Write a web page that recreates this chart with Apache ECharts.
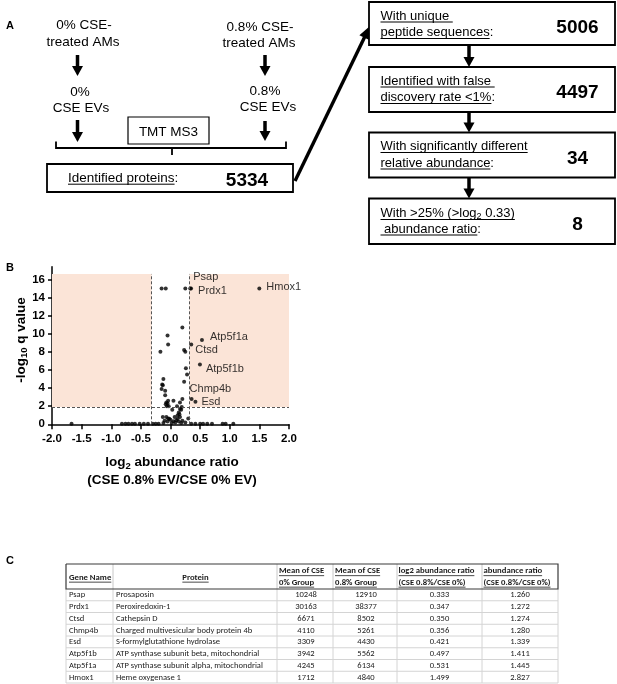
<!DOCTYPE html>
<html><head><meta charset="utf-8">
<script src="https://cdn.jsdelivr.net/npm/echarts@6.0.0/dist/echarts.min.js"></script>
<style>html,body{margin:0;padding:0;background:#fff}#c{width:617px;height:684px}</style>
</head><body><div id="c"></div>
<script>
// ---------------- DATA ----------------
const geneNames = ['Psap','Prdx1','Ctsd','Chmp4b','Esd','Atp5f1b','Atp5f1a','Hmox1'];
const proteinNames = ['Prosaposin','Peroxiredoxin-1','Cathepsin D','Charged multivesicular body protein 4b',
  'S-formylglutathione hydrolase','ATP synthase subunit beta, mitochondrial','ATP synthase subunit alpha, mitochondrial','Heme oxygenase 1'];
const meanCSE0 = [10248,30163,6671,4110,3309,3942,4245,1712];
const meanCSE08 = [12910,38377,8502,5261,4430,5562,6134,4840];
const log2Ratio = [0.333,0.347,0.350,0.356,0.421,0.497,0.531,1.499];
const abundanceRatio = [1.260,1.272,1.274,1.280,1.339,1.411,1.445,2.827];
const labeledNegLogQ = [15.0,15.0,8.8,2.8,2.5,6.6,9.3,15.0];

const otherLog2 = [-0.15,-0.08,0.25, 0.20,-0.05,-0.04,-0.17,0.23,0.25,
  0.26,0.28,0.23,-0.12,-0.14,-0.13,-0.15,-0.09,-0.09,0.20,
  0.05,-0.04,-0.07,-0.08,-0.05,0.16,-0.06,-0.03,0.11,0.19,
  0.03,0.18,0.14,0.16,
  -0.13,-0.07,-0.04,0.07,0.16,0.30,0.12,0.15,
  -0.10,-0.05,0.00,0.05,0.10,0.14,0.20,0.25,-0.12,0.02,0.08,0.18,-0.02,0.12,
  -1.67,-0.82,-0.76,-0.71,-0.65,-0.60,-0.52,-0.45,-0.38,-0.30,-0.25,-0.20,0.35,0.42,0.50,0.55,0.62,0.70,0.88,0.93,1.06];
const otherNegLogQ = [15.0,15.0,15.0, 10.7,9.8,8.8,8.0,8.2,8.0,
  6.2,5.5,4.7,5.0,4.4,4.3,3.9,3.7,3.2,2.8,
  2.6,2.6,2.4,2.2,2.3,2.4,2.0,2.0,2.0,1.9,
  1.6,1.6,1.3,1.7,
  0.8,0.8,0.65,0.8,0.8,0.65,1.0,1.1,
  0.4,0.3,0.5,0.35,0.45,0.3,0.4,0.2,0.15,0.15,0.2,0.15,0.6,0.6,
  0.05,0.05,0.05,0.05,0.05,0.05,0.05,0.05,0.05,0.05,0.05,0.05,0.05,0.05,0.05,0.05,0.05,0.05,0.05,0.05,0.05];

const yTickValues = [0,2,4,6,8,10,12,14,16];
const ratioCut = 0.32;      // log2 threshold lines
const qCut = 1.9;           // -log10 q threshold line
const shadeTop = 16.6;

const flowCounts = [5334, 5006, 4497, 34, 8];

// ---------------- HELPERS ----------------
const FAM = '"Liberation Sans", Arial, Helvetica, sans-serif';
const TFAM = 'Carlito, "Liberation Sans Narrow", "Liberation Sans", Arial, sans-serif';
const mctx = document.createElement('canvas').getContext('2d');
function tw(t, font){ mctx.font = font; return mctx.measureText(t).width; }
const g = [];
function txt(x, y, text, font, align, extra){
  align = align || 'left';
  g.push({type:'text', x:x, y:y, silent:true, z:10,
    style:Object.assign({text:text, font:font, fill:'#000', align:align, verticalAlign:'middle',
      textAlign:align, textVerticalAlign:'middle'}, extra||{})});
}
function line(points, w, color, dash){
  g.push({type:'polyline', silent:true, z:10, shape:{points:points},
    style:{stroke:color||'#000', lineWidth:w||1, fill:null, lineDash:dash||null}});
}
function rect(x, y, w, h, lw, stroke){
  g.push({type:'rect', silent:true, z:10, shape:{x:x, y:y, width:w, height:h},
    style:{stroke:stroke||'#000', lineWidth:lw||1, fill:'#fff'}});
}
function arrow(x1, y1, x2, y2, sw, hl, hw){
  const dx = x2-x1, dy = y2-y1, L = Math.sqrt(dx*dx+dy*dy);
  const ux = dx/L, uy = dy/L, px = -uy, py = ux;
  const bx = x2-ux*hl, by = y2-uy*hl;
  line([[x1,y1],[bx+ux*1,by+uy*1]], sw);
  g.push({type:'polygon', silent:true, z:10, shape:{points:[[x2,y2],[bx+px*hw/2,by+py*hw/2],[bx-px*hw/2,by-py*hw/2]]},
    style:{fill:'#000', stroke:null}});
}
function uline(x, y, w, lw, color){ line([[x,y],[x+w,y]], lw||1, color||'#000'); }
// text drawn left aligned, with segments underlined
function ulText(x, y, segs, font, ulOff, lw){
  let cx = x;
  const full = segs.map(s=>s.t).join('');
  txt(x, y, full, font, 'left');
  segs.forEach(s=>{ const w = tw(s.t, font); if (s.u) uline(cx, y+ulOff, w, lw||1); cx += w; });
}

// ---------------- PANEL A ----------------
const F135 = '13.5px ' + FAM;
const F13 = '13px ' + FAM;
const FB19 = 'bold 19px ' + FAM;
txt(6, 26, 'A', 'bold 11px ' + FAM);
txt(6, 268, 'B', 'bold 11px ' + FAM);
txt(6, 561, 'C', 'bold 11px ' + FAM);

txt(84, 25, '0% CSE-', F135, 'center');
txt(83, 42, 'treated AMs', F135, 'center');
txt(80, 92, '0%', F135, 'center');
txt(81, 108, 'CSE EVs', F135, 'center');
txt(260, 27, '0.8% CSE-', F135, 'center');
txt(259, 43.5, 'treated AMs', F135, 'center');
txt(265, 91, '0.8%', F135, 'center');
txt(268, 107.5, 'CSE EVs', F135, 'center');
arrow(77.5, 55, 77.5, 76, 3.5, 10, 11);
arrow(77.5, 120, 77.5, 142, 3.5, 10, 11);
arrow(265, 55, 265, 76, 3.5, 10, 11);
arrow(265, 121, 265, 141, 3.5, 10, 11);

rect(128, 117, 81, 27, 1.2);
txt(168.5, 132, 'TMT MS3', F135, 'center');
// brace
line([[56,141.5],[56,148],[286,148],[286,141.5]], 1.8);
line([[172,148],[172,155]], 1.8);

rect(47, 164, 246, 28, 1.8);
ulText(68, 178, [{t:'Identified proteins', u:true},{t:':', u:false}], F135, 6.2, 1);
txt(247, 181, String(flowCounts[0]), FB19, 'center');

// big diagonal arrow
arrow(295, 181, 370, 26, 3.4, 13, 11);

// right boxes
const boxTop = [2, 67, 132.5, 198.5];
const boxH = [43, 45, 45, 45.5];
const lines1 = [
  [[{t:'With unique ', u:true}], [{t:'peptide sequences', u:true},{t:':', u:false}]],
  [[{t:'Identified with false ', u:true}], [{t:'discovery rate <1%', u:true},{t:':', u:false}]],
  [[{t:'With significantly different', u:true}], [{t:'relative abundance', u:true},{t:':', u:false}]],
  null
];
for (let i=0;i<4;i++){
  rect(369, boxTop[i], 246, boxH[i], 1.8);
  const y1 = boxTop[i] + 14, y2 = boxTop[i] + 30.5;
  if (lines1[i]){
    ulText(380.5, y1, lines1[i][0], F13, 6, 1);
    ulText(380.5, y2, lines1[i][1], F13, 6, 1);
  }
  txt(577.5, boxTop[i] + 26, String(flowCounts[i+1]), FB19, 'center');
  if (i<3) arrow(469, boxTop[i]+boxH[i], 469, boxTop[i+1], 3.5, 10, 11);
}
// box 4 rich line with subscript
{
  const y1 = boxTop[3] + 14.5, y2 = boxTop[3] + 30.5;
  g.push({type:'text', x:380.5, y:y1, silent:true, z:10, style:{
    text:'{a|With >25% (>log}{s|2}{a| 0.33)}', align:'left', verticalAlign:'middle', textAlign:'left', textVerticalAlign:'middle',
    rich:{a:{font:F13, fill:'#000', lineHeight:16}, s:{font:'9px '+FAM, fill:'#000', lineHeight:10, verticalAlign:'bottom'}}}});
  const w = tw('With >25% (>log', F13) + tw('2', '9px '+FAM) + tw(' 0.33)', F13);
  uline(380.5, y1+6.5, w, 1);
  ulText(380.5, y2, [{t:' abundance ratio', u:true},{t:':', u:false}], F13, 6, 1);
}

// ---------------- PANEL B axis titles ----------------
const FB135 = 'bold 13.5px ' + FAM;
g.push({type:'text', x:21, y:340, rotation:Math.PI/2, silent:true, z:10, style:{
  text:'{a|-log}{s|10}{a| q value}', align:'center', verticalAlign:'middle', textAlign:'center', textVerticalAlign:'middle',
  rich:{a:{font:FB135, fill:'#000', lineHeight:16}, s:{font:'bold 9.5px '+FAM, fill:'#000', lineHeight:8, verticalAlign:'bottom'}}}});
g.push({type:'text', x:172, y:471.5, silent:true, z:10, style:{
  text:'{a|log}{s|2}{a| abundance ratio}\n{a|(CSE 0.8% EV/CSE 0% EV)}', align:'center', verticalAlign:'middle', textAlign:'center', textVerticalAlign:'middle',
  rich:{a:{font:FB135, fill:'#000', lineHeight:18}, s:{font:'bold 9.5px '+FAM, fill:'#000', lineHeight:9, verticalAlign:'bottom'}}}});

// ---------------- PANEL C table ----------------
const colX = [66,113,277,333,397,482,558];
const headTop = 564, headBot = 589, rowH = 11.75;
let bodySize = 9 * 147 / tw('ATP synthase subunit alpha, mitochondrial', '9px ' + TFAM);
bodySize = Math.min(9.2, bodySize);
let headSize = 9 * 76 / tw('log2 abundance ratio', 'bold 9px ' + TFAM);
headSize = Math.min(9.2, headSize);
const TF = bodySize.toFixed(2) + 'px ' + TFAM;
const TFB = 'bold ' + headSize.toFixed(2) + 'px ' + TFAM;
const nRows = geneNames.length;
const tBot = headBot + rowH*nRows;
// light grid
for (let r=1;r<=nRows;r++) line([[colX[0],headBot+rowH*r],[colX[6],headBot+rowH*r]], 1, '#d4d4d4');
for (let c=0;c<colX.length;c++) line([[colX[c],headBot],[colX[c],tBot]], 1, '#d4d4d4');
for (let c=1;c<colX.length-1;c++) line([[colX[c],headTop],[colX[c],headBot]], 1, '#c8c8c8');
// header border
line([[colX[0],headTop],[colX[6],headTop],[colX[6],headBot],[colX[0],headBot],[colX[0],headTop]], 1.2, '#3a3a3a');
function hdr(x, y, t, align){
  txt(x, y, t, TFB, align||'left', {fill:'#1a1a1a'});
  const w = tw(t, TFB);
  const x0 = align==='center' ? x - w/2 : x;
  uline(x0, y+headSize*0.5+0.3, w, 0.8, '#1a1a1a');
}
hdr(69, 577.5, 'Gene Name');
hdr(195.5, 577.5, 'Protein', 'center');
hdr(279, 571, 'Mean of CSE'); hdr(279, 582.5, '0% Group');
hdr(335, 571, 'Mean of CSE'); hdr(335, 582.5, '0.8% Group');
hdr(398.5, 571, 'log2 abundance ratio'); hdr(398.5, 582.5, '(CSE 0.8%/CSE 0%)');
hdr(483.5, 571, 'abundance ratio'); hdr(483.5, 582.5, '(CSE 0.8%/CSE 0%)');
for (let i=0;i<nRows;i++){
  const y = headBot + rowH*(i+0.5) + 0.3;
  const o = {fill:'#222'};
  txt(69, y, geneNames[i], TF, 'left', o);
  txt(116, y, proteinNames[i], TF, 'left', o);
  txt((colX[2]+colX[3])/2+1, y, String(meanCSE0[i]), TF, 'center', o);
  txt((colX[3]+colX[4])/2+1, y, String(meanCSE08[i]), TF, 'center', o);
  txt((colX[4]+colX[5])/2, y, log2Ratio[i].toFixed(3), TF, 'center', o);
  txt((colX[5]+colX[6])/2, y, abundanceRatio[i].toFixed(3), TF, 'center', o);
}

// ---------------- PANEL B chart ----------------
const labelOffsets = {Psap:[3,-11], Prdx1:[7,3], Hmox1:[7,-1], Atp5f1a:[8,-3], Ctsd:[4,5], Atp5f1b:[6,4], Chmp4b:[-2,-10], Esd:[6,0]};
const otherData = otherLog2.map((x,i)=>[x, otherNegLogQ[i]]);
const labeledData = geneNames.map((n,i)=>({name:n, value:[log2Ratio[i], labeledNegLogQ[i]],
  label:{offset:labelOffsets[n]}}));

const axisLab = {color:'#000', fontFamily:FAM, fontWeight:'bold', fontSize:11.5};
const option = {
  animation:false,
  backgroundColor:'#fff',
  grid:{left:52, top:266.7, width:237, height:157.6, containLabel:false},
  xAxis:{type:'value', min:-2, max:2, interval:0.5,
    axisLine:{onZero:false, lineStyle:{color:'#000', width:1.5}},
    axisTick:{show:true, length:5, lineStyle:{color:'#000', width:1.5}},
    splitLine:{show:false},
    axisLabel:Object.assign({margin:9, formatter:v=>v.toFixed(1)}, axisLab)},
  yAxis:{type:'value', min:0, max:17.4, interval:2,
    axisLine:{show:true, onZero:false, lineStyle:{color:'#000', width:1.5}},
    axisTick:{show:true, length:4, lineStyle:{color:'#000', width:1.5}, customValues:yTickValues},
    splitLine:{show:false},
    axisLabel:Object.assign({margin:7, customValues:yTickValues}, axisLab)},
  series:[
    {type:'scatter', data:otherData, symbolSize:4, itemStyle:{color:'#000'}, silent:true, z:3,
      markArea:{silent:true, itemStyle:{color:'#FBE4D7'}, data:[
        [{coord:[-2, qCut]},{coord:[-ratioCut, shadeTop]}],
        [{coord:[ratioCut, qCut]},{coord:[2, shadeTop]}]]},
      markLine:{silent:true, symbol:['none','none'], label:{show:false},
        lineStyle:{type:[3,2], color:'#555', width:1},
        data:[[{coord:[-ratioCut,0]},{coord:[-ratioCut,shadeTop]}],
              [{coord:[ratioCut,0]},{coord:[ratioCut,shadeTop]}],
              [{coord:[-2,qCut]},{coord:[2,qCut]}]]}},
    {type:'scatter', data:labeledData, symbolSize:4, itemStyle:{color:'#000'}, silent:true, z:4,
      label:{show:true, position:'inside', align:'left', verticalAlign:'middle', formatter:p=>p.name,
        color:'#000', fontFamily:FAM, fontSize:11}}
  ],
  graphic:g
};
const chart = echarts.init(document.getElementById('c'), null, {renderer:'canvas', width:617, height:684});
chart.setOption(option);
</script>
</body></html>
